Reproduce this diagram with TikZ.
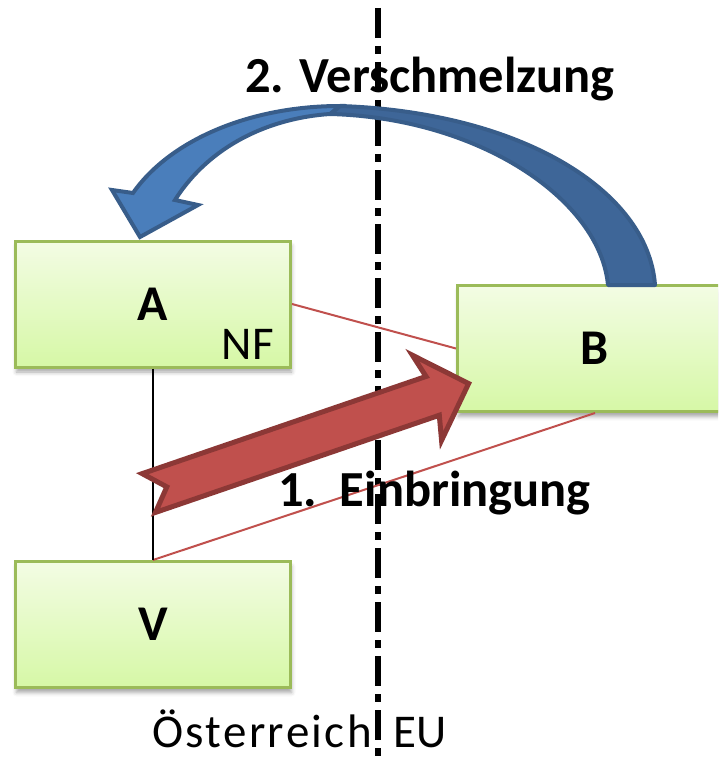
\documentclass[tikz,border=0pt]{standalone}
\usepackage{fontspec}
\setmainfont{Carlito}
\usetikzlibrary{shadows.blur}
\definecolor{boxtop}{HTML}{F3FCE4}
\definecolor{boxbot}{HTML}{D6F8A6}
\definecolor{boxline}{HTML}{9BBB59}
\definecolor{redfill}{HTML}{C0504D}
\definecolor{redline}{HTML}{8C3836}
\definecolor{bluefront}{HTML}{4A7EBB}
\definecolor{blueback}{HTML}{3E6698}
\definecolor{blueline}{HTML}{385D8A}
\tikzset{
  ebox/.style={draw=boxline, line width=3pt, top color=boxtop, bottom color=boxbot,
    minimum width=275pt, minimum height=126pt, inner sep=0pt,
    font=\fontsize{50}{55}\selectfont\bfseries,
    blur shadow={shadow xshift=1pt, shadow yshift=-5pt, shadow blur radius=4pt, shadow opacity=35}},
  bigbold/.style={inner sep=0pt, font=\fontsize{50.5}{55}\selectfont\bfseries},
  bigreg/.style={inner sep=0pt, font=\fontsize{47}{55}\selectfont},
  thinred/.style={draw=redfill, line width=2pt},
  border/.style={draw=black, line width=6pt, dash pattern=on 30pt off 8pt on 8pt off 8pt},
}
\begin{document}
\begin{tikzpicture}[x=1pt,y=-1pt]
\useasboundingbox (0,0) rectangle (718,762);
\clip (0,0) rectangle (718,762);
% border line
\coordinate (lt) at (378,8);
\coordinate (lb) at (378,775);
\draw[border] (lt) -- (lb);
% boxes
\node[ebox] (A) at (153,304) {A};
\node[ebox] (B) at (595,348.5) {B};
\node[ebox] (V) at (153,624.5) {V};
\node[bigreg, anchor=base east] (nf) at (274,359) {NF};
% connectors
\draw[thinred] (A.east) -- (B.west);
\draw[thinred] (V.north) -- (B.south);
\draw[black, line width=2pt] (A.south) -- (V.north);
% red block arrow
\begin{scope}[shift={(146,494)}, rotate=18.9]
\draw[fill=redfill, draw=redline, line width=5pt, line join=miter]
  (3,20.5) -- (303,20.5) -- (297,45) -- (341,0) -- (297,-45) -- (303,-20.5)
  -- (3,-20.5) -- (22,0) -- cycle;
\end{scope}
% blue curved arrow (back part)
\draw[fill=blueback, draw=blueline, line width=4pt, line join=round]
  (655,285) .. controls (648,190) and (520,112) .. (340,106)
  -- (330,114) .. controls (480,118) and (600,200) .. (608,285) -- cycle;
% blue curved arrow (front part with head)
\draw[fill=bluefront, draw=blueline, line width=4pt, line join=miter]
  (340,106) .. controls (250,106) and (170,140) .. (133,193)
  -- (112,190) -- (140,237) -- (198,205) -- (175,200)
  .. controls (210,145) and (270,118) .. (330,114) -- cycle;
% labels
\node[bigbold, anchor=base west] (t2) at (245,93) {2. Verschmelzung};
\node[bigbold, anchor=base west] (t1) at (278,506) {1.\hspace{0.45em}Einbringung};
\node[bigreg, anchor=base west] (at) at (152,747) {\addfontfeature{LetterSpace=5}Österreich};
\node[bigreg, anchor=base west] (eu) at (393,747) {EU};
\end{tikzpicture}
\end{document}
